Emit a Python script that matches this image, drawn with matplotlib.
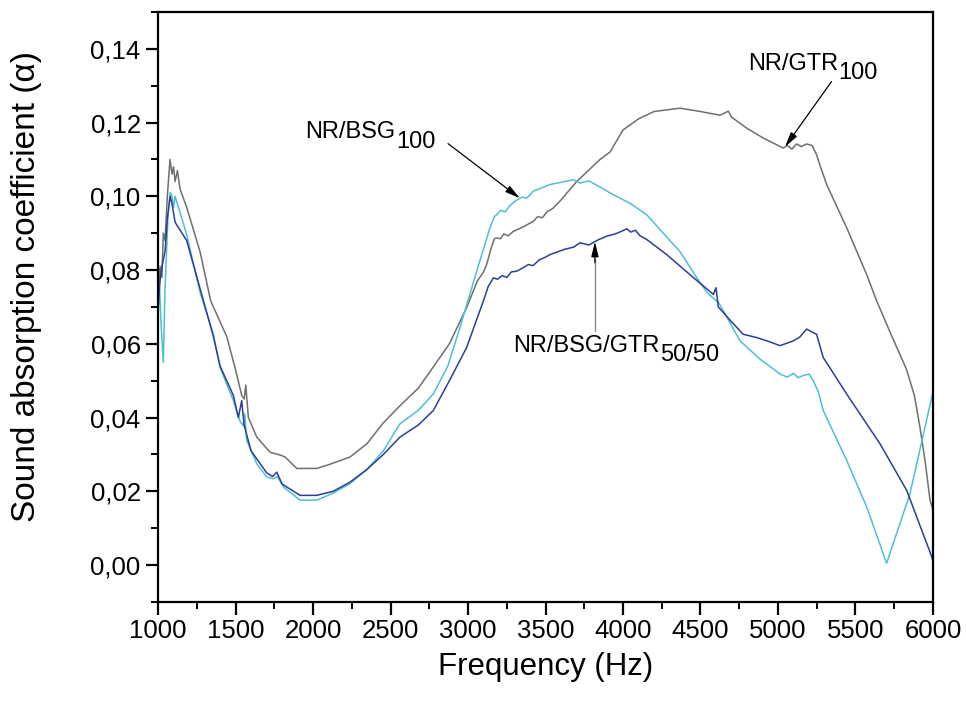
import numpy as np
import matplotlib
matplotlib.use("Agg")
import matplotlib.pyplot as plt
from matplotlib.ticker import MultipleLocator, FuncFormatter

plt.rcParams["font.family"] = ["Liberation Sans", "DejaVu Sans"]

# NR/GTR100 (gray)
f_gtr = [1000, 1013, 1025, 1034, 1045, 1060, 1077, 1090, 1100, 1110, 1125, 1142, 1185,
         1271, 1340, 1400, 1443, 1500, 1540, 1556, 1566, 1583, 1637, 1723, 1790, 1820,
         1895, 1950, 2024, 2100, 2239, 2350, 2452, 2561, 2680, 2774, 2880, 2991, 3060,
         3100, 3120, 3150, 3170, 3185, 3210, 3230, 3260, 3292, 3330, 3360, 3390, 3421,
         3450, 3480, 3510, 3550, 3600, 3650, 3701, 3852, 3916, 4000, 4100, 4200, 4368, 4500,
         4626, 4680, 4700, 4798, 4905, 5034, 5060, 5090, 5120, 5150, 5185, 5220, 5249, 5270,
         5292, 5314, 5443, 5572, 5637, 5730, 5830, 5880, 5916, 5950, 5981, 6000]
a_gtr = [0.072, 0.081, 0.078, 0.090, 0.088, 0.100, 0.110, 0.106, 0.108, 0.104, 0.107, 0.102, 0.097,
         0.085, 0.0716, 0.066, 0.062, 0.053, 0.046, 0.045, 0.0488, 0.040, 0.0347, 0.0306, 0.0298, 0.0293,
         0.0262, 0.0262, 0.0262, 0.0272, 0.0293, 0.033, 0.0385, 0.0432, 0.048, 0.0536, 0.060, 0.0698, 0.077,
         0.0795, 0.0815, 0.086, 0.0885, 0.0887, 0.0885, 0.0898, 0.0893, 0.0905, 0.0912, 0.0918, 0.0925, 0.0932,
         0.0945, 0.0942, 0.0958, 0.0968, 0.099, 0.1015, 0.104, 0.110, 0.112, 0.118, 0.121, 0.123, 0.1239, 0.123,
         0.122, 0.1231, 0.1215, 0.1185, 0.1158, 0.1131, 0.1138, 0.1128, 0.1142, 0.1135, 0.1142, 0.1138, 0.1113, 0.1085,
         0.1059, 0.1032, 0.0915, 0.0788, 0.0716, 0.0625, 0.0530, 0.0460, 0.0374, 0.0280, 0.0176, 0.015]

# NR/BSG100 (cyan)
f_bsg = [1000, 1010, 1020, 1034, 1045, 1055, 1065, 1078, 1088, 1100, 1110, 1120, 1185,
         1271, 1357, 1400, 1486, 1529, 1550, 1560, 1572, 1637, 1701, 1744, 1770, 1809,
         1916, 2024, 2130, 2239, 2350, 2454, 2561, 2680, 2776, 2870, 2948, 3056, 3142,
         3170, 3185, 3210, 3240, 3270, 3314, 3350, 3380, 3421, 3470, 3529, 3600, 3679,
         3723, 3780, 3852, 3935, 4050, 4153, 4260, 4368, 4475,
         4540, 4620, 4660, 4755, 4880, 5013, 5060, 5100, 5130, 5163, 5200, 5228, 5260, 5292, 5443, 5572,
         5701, 5852, 5992, 6000]
a_bsg = [0.068, 0.075, 0.065, 0.055, 0.075, 0.085, 0.095, 0.101, 0.1005, 0.097, 0.100, 0.0986, 0.0896,
         0.074, 0.0626, 0.0536, 0.0446, 0.039, 0.0378, 0.041, 0.0338, 0.0275, 0.0239, 0.0234, 0.024, 0.0212,
         0.0176, 0.0176, 0.0195, 0.0221, 0.026, 0.031, 0.0383, 0.042, 0.0464, 0.054, 0.0644, 0.0797, 0.0915,
         0.0945, 0.095, 0.0962, 0.0958, 0.0975, 0.099, 0.0998, 0.0995, 0.1014, 0.1022, 0.1032, 0.1038, 0.1045,
         0.1036, 0.1042, 0.1025, 0.1005, 0.098, 0.095, 0.090, 0.085, 0.078,
         0.074, 0.071, 0.068, 0.0608, 0.056, 0.0518, 0.0510, 0.052, 0.0508, 0.0514, 0.0518, 0.050, 0.047, 0.0419, 0.0284, 0.0158,
         0.0005, 0.0194, 0.0455, 0.047]

# NR/BSG/GTR50/50 (dark blue)
f_mix = [1000, 1015, 1030, 1045, 1060, 1078, 1090, 1110, 1120, 1185, 1271, 1357, 1400,
         1486, 1518, 1540, 1555, 1600, 1701, 1740, 1766, 1800, 1916, 2024, 2130, 2239,
         2350, 2454, 2561, 2680, 2776, 2880, 2991, 3099, 3130, 3164, 3190, 3220, 3250,
         3280, 3314, 3350, 3390, 3420, 3460, 3500, 3529, 3570, 3620, 3680, 3723, 3780,
         3840, 3895, 3950, 3990, 4024, 4050, 4080, 4110, 4153, 4282, 4453, 4583, 4600,
         4615, 4700, 4775, 4862, 4950, 5013, 5060, 5099, 5140, 5185, 5220, 5249, 5270,
         5292, 5443, 5658, 5830, 5992, 6000]
a_mix = [0.070, 0.078, 0.082, 0.085, 0.094, 0.100, 0.098, 0.093, 0.0923, 0.088, 0.075, 0.062, 0.054,
         0.046, 0.040, 0.0446, 0.038, 0.031, 0.025, 0.024, 0.0252, 0.022, 0.0189, 0.0189, 0.020, 0.0225,
         0.026, 0.030, 0.0347, 0.038, 0.0419, 0.050, 0.059, 0.0716, 0.0755, 0.0779, 0.0775, 0.0785, 0.078,
         0.0795, 0.0797, 0.0805, 0.0815, 0.0812, 0.0828, 0.0835, 0.0842, 0.0848, 0.0856, 0.0862, 0.0874, 0.0868,
         0.0882, 0.0892, 0.0898, 0.0905, 0.0912, 0.0903, 0.0908, 0.0893, 0.0883, 0.0842, 0.078, 0.0734, 0.0752,
         0.070, 0.066, 0.0626, 0.0617, 0.0605, 0.0595, 0.0602, 0.0608, 0.0618, 0.064, 0.0632, 0.0626, 0.0595,
         0.0563, 0.0464, 0.0329, 0.0203, 0.0023, 0.001]

x_ticks = [1000, 1500, 2000, 2500, 3000, 3500, 4000, 4500, 5000, 5500, 6000]

fig = plt.figure(figsize=(9.66, 7.04), dpi=100)
ax = fig.add_axes([0.1636, 0.145, 0.8022, 0.838])

ax.plot(f_gtr, a_gtr, color="#6f6f6f", lw=1.1)
ax.plot(f_bsg, a_bsg, color="#4dbfd6", lw=1.1)
ax.plot(f_mix, a_mix, color="#2c3f98", lw=1.1)

ax.set_xlim(1000, 6000)
ax.set_ylim(-0.01, 0.15)
ax.set_xticks(x_ticks)
ax.xaxis.set_minor_locator(MultipleLocator(250))
ax.yaxis.set_major_locator(MultipleLocator(0.02))
ax.yaxis.set_minor_locator(MultipleLocator(0.01))
ax.yaxis.set_major_formatter(FuncFormatter(lambda v, p: f"{v:.2f}".replace(".", ",")))

for s in ax.spines.values():
    s.set_linewidth(1.6)
ax.tick_params(which="major", direction="out", length=9, width=1.6, labelsize=18.5)
ax.tick_params(which="minor", direction="out", length=5, width=1.4)

ax.set_xlabel("Frequency (Hz)", fontsize=22.5, labelpad=6)
ax.set_ylabel("Sound absorption coefficient (\u03b1)", fontsize=24)
ax.yaxis.set_label_coords(-0.150, 0.535)

head = "-|>,head_length=0.9,head_width=0.22"


def label(main, sub, pos):
    t = ax.text(pos[0], pos[1], main, fontsize=17, ha="left", va="baseline")
    ax.annotate(sub, xy=(1, 0), xycoords=t, xytext=(0.5, -3), textcoords="offset points",
                fontsize=17, ha="left", va="baseline")


def arrow(tail, x_tip, fx, ay, color="black"):
    y_tip = np.interp(x_tip, fx, ay)
    ax.annotate("", xy=(x_tip, y_tip), xytext=tail,
                arrowprops=dict(arrowstyle=head, mutation_scale=10, color=color,
                                lw=0.9, shrinkA=0, shrinkB=0))


label("NR/BSG", "100", (1948, 0.1157))
arrow((2871, 0.1143), 3335, f_bsg, a_bsg)

label("NR/GTR", "100", (4806, 0.1343))
arrow((5345, 0.1311), 5045, f_gtr, a_gtr)

label("NR/BSG/GTR", "50/50", (3290, 0.0579))
ax.plot([3819, 3819], [0.0635, 0.083], color="#8a8a8a", lw=1.0)
arrow((3819, 0.082), 3819, f_mix, a_mix)

fig.savefig("out.png", dpi=100)
